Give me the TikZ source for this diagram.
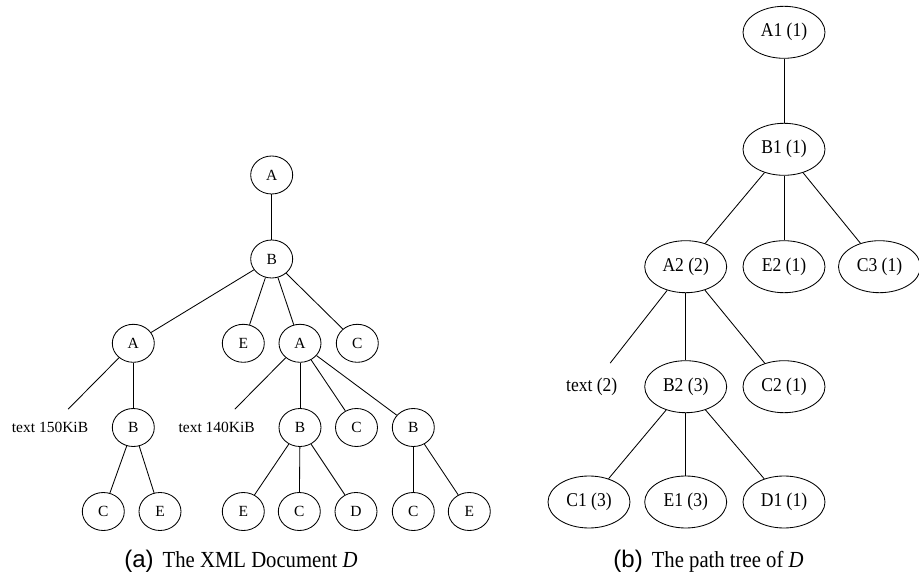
\documentclass[tikz,border=0pt]{standalone}
\usepackage{fontspec}
\setmainfont{Liberation Serif}
\newfontfamily\capsans{Liberation Sans}
\newfontfamily\narrow[FakeStretch=0.9]{Liberation Serif}
\usetikzlibrary{shapes.geometric}
\tikzset{
  lnode/.style={ellipse,draw,line width=0.85pt,minimum width=42pt,minimum height=38pt,inner sep=0pt,font=\fontsize{15.5}{18}\selectfont},
  ltext/.style={lnode,draw=none},
  rnode/.style={ellipse,draw,line width=0.85pt,minimum width=82pt,minimum height=52pt,inner sep=0pt,font=\narrow\fontsize{19.5}{22}\selectfont},
  rtext/.style={rnode,draw=none},
  edge/.style={line width=0.85pt},
  caption/.style={anchor=base,inner sep=0pt,font=\narrow\fontsize{23}{26}\selectfont}
}
\begin{document}
\begin{tikzpicture}[x=1pt,y=-1pt]
\useasboundingbox (0,0) rectangle (919,580);
% left tree
\node[lnode] (la) at (271.7,175) {A};
\node[lnode] (lb) at (271.7,259) {B};
\node[lnode] (la2) at (133.3,343.3) {A};
\node[lnode] (le) at (243.3,343.3) {E};
\node[lnode] (la3) at (300,343.3) {A};
\node[lnode] (lc) at (357.3,343.3) {C};
\node[ltext] (t150) at (50,427.5) {text 150KiB};
\node[lnode] (lb2) at (133.3,427.5) {B};
\node[ltext] (t140) at (216.7,427.5) {text 140KiB};
\node[lnode] (lb3) at (300,427.5) {B};
\node[lnode] (lc2) at (356.5,427.5) {C};
\node[lnode] (lb4) at (413.3,427.5) {B};
\node[lnode] (l1) at (103.3,511.5) {C};
\node[lnode] (l2) at (160,511.5) {E};
\node[lnode] (l3) at (243.3,511.5) {E};
\node[lnode] (l4) at (299.3,511.5) {C};
\node[lnode] (l5) at (356,511.5) {D};
\node[lnode] (l6) at (413.3,511.5) {C};
\node[lnode] (l7) at (469.3,511.5) {E};
\draw[edge] (la) -- (lb);
\draw[edge] (lb) -- (la2);
\draw[edge] (lb) -- (le);
\draw[edge] (lb) -- (la3);
\draw[edge] (lb) -- (lc);
\draw[edge] (la2) -- (t150);
\draw[edge] (la2) -- (lb2);
\draw[edge] (la3) -- (t140);
\draw[edge] (la3) -- (lb3);
\draw[edge] (la3) -- (lc2);
\draw[edge] (la3) -- (lb4);
\draw[edge] (lb2) -- (l1);
\draw[edge] (lb2) -- (l2);
\draw[edge] (lb3) -- (l3);
\draw[edge] (lb3) -- (l4);
\draw[edge] (lb3) -- (l5);
\draw[edge] (lb4) -- (l6);
\draw[edge] (lb4) -- (l7);
% right tree
\node[rnode] (a1) at (784,32.3) {A1 (1)};
\node[rnode] (b1) at (784,149.3) {B1 (1)};
\node[rnode] (a2) at (685.7,266.7) {A2 (2)};
\node[rnode] (e2) at (784,266.7) {E2 (1)};
\node[rnode] (c3) at (879.5,266.7) {C3 (1)};
\node[rtext] (t2) at (591.7,386.7) {text (2)};
\node[rnode] (b2) at (685.7,386.7) {B2 (3)};
\node[rnode] (c2) at (784,386.7) {C2 (1)};
\node[rnode] (c1) at (589,502) {C1 (3)};
\node[rnode] (e1) at (685.7,502) {E1 (3)};
\node[rnode] (d1) at (784,502) {D1 (1)};
\draw[edge] (a1) -- (b1);
\draw[edge] (b1) -- (a2);
\draw[edge] (b1) -- (e2);
\draw[edge] (b1) -- (c3);
\draw[edge] (a2) -- (t2);
\draw[edge] (a2) -- (b2);
\draw[edge] (a2) -- (c2);
\draw[edge] (b2) -- (c1);
\draw[edge] (b2) -- (e1);
\draw[edge] (b2) -- (d1);
% captions
\node[caption] (capa) at (241,567) {{\capsans\fontsize{24}{26}\selectfont (a)}\hspace{9pt}The XML Document \textit{D}};
\node[caption] (capb) at (708.5,567) {{\capsans\fontsize{24}{26}\selectfont (b)}\hspace{9pt}The path tree of \textit{D}};
\end{tikzpicture}
\end{document}
